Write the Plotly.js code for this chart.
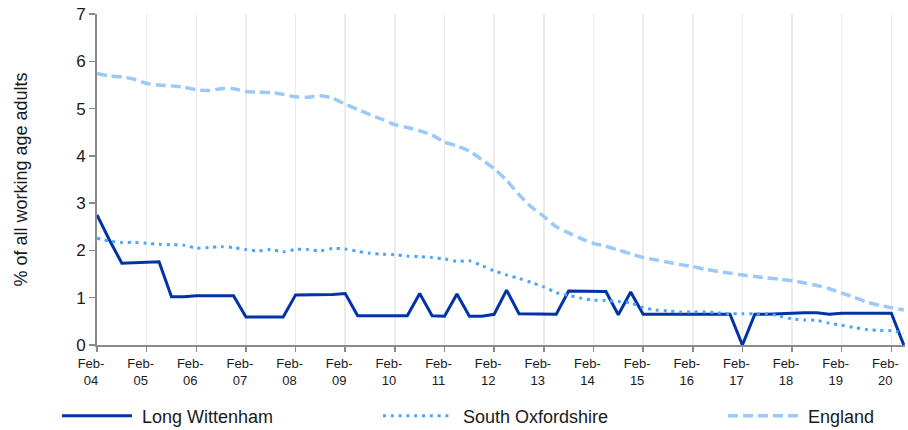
<!DOCTYPE html>
<html>
<head>
<meta charset="utf-8">
<script src="https://cdn.plot.ly/plotly-3.0.1.min.js"></script>
<style>
  html, body { margin: 0; padding: 0; background: #ffffff; }
  #chart { width: 908px; height: 430px; }
</style>
</head>
<body>
<div id="chart"></div>
<script>
// Quarterly observations, Feb-04 (index 0) to May-20 (index 65)
const yearLabels = ['04','05','06','07','08','09','10','11','12','13','14','15','16','17','18','19','20'];

const longWittenham = [
  2.75, 2.22, 1.73, 1.74, 1.75, 1.76, 1.02, 1.02, 1.04, 1.04, 1.04, 1.04,
  0.59, 0.59, 0.59, 0.59, 1.06, 1.06, 1.06, 1.07, 1.09, 0.62, 0.62, 0.62,
  0.62, 0.62, 1.09, 0.62, 0.61, 1.08, 0.61, 0.61, 0.65, 1.16, 0.66, 0.66,
  0.65, 0.65, 1.14, 1.14, 1.13, 1.13, 0.64, 1.12, 0.65, 0.65, 0.65, 0.65,
  0.65, 0.65, 0.65, 0.65, 0.00, 0.65, 0.65, 0.66, 0.68, 0.68, 0.68, 0.65,
  0.67, 0.67, 0.67, 0.67, 0.67, 0.00
];

const southOxfordshire = [
  2.26, 2.20, 2.17, 2.17, 2.15, 2.13, 2.12, 2.11, 2.05, 2.06, 2.08, 2.06,
  2.02, 1.99, 2.02, 1.97, 2.02, 2.02, 1.99, 2.04, 2.03, 1.98, 1.94, 1.92,
  1.91, 1.88, 1.87, 1.85, 1.82, 1.77, 1.78, 1.68, 1.57, 1.48, 1.41, 1.32,
  1.23, 1.11, 1.05, 0.99, 0.95, 0.94, 0.92, 0.89, 0.79, 0.74, 0.72, 0.70,
  0.70, 0.70, 0.68, 0.66, 0.66, 0.66, 0.66, 0.61, 0.55, 0.53, 0.52, 0.46,
  0.42, 0.37, 0.33, 0.31, 0.30, 0.25
];

const england = [
  5.74, 5.69, 5.67, 5.62, 5.53, 5.50, 5.48, 5.45, 5.40, 5.38, 5.42, 5.42,
  5.36, 5.35, 5.34, 5.30, 5.25, 5.24, 5.27, 5.22, 5.09, 4.98, 4.87, 4.77,
  4.66, 4.60, 4.53, 4.44, 4.29, 4.21, 4.10, 3.92, 3.73, 3.48, 3.18, 2.92,
  2.72, 2.50, 2.37, 2.25, 2.15, 2.09, 2.01, 1.93, 1.85, 1.80, 1.75, 1.70,
  1.66, 1.60, 1.56, 1.52, 1.48, 1.45, 1.42, 1.39, 1.36, 1.31, 1.26, 1.19,
  1.10, 1.01, 0.91, 0.84, 0.79, 0.74
];

const seriesNames = ['Long Wittenham', 'South Oxfordshire', 'England'];

const quarterIndex = longWittenham.map((_, i) => i);
const tickVals = yearLabels.map((_, i) => i * 4);
const tickText = yearLabels.map(y => 'Feb-<br>' + y);

const FONT = '"Liberation Sans", Arial, sans-serif';
const NBSP = '\u00a0';

const traces = [
  {
    x: quarterIndex, y: longWittenham, name: NBSP + seriesNames[0],
    type: 'scatter', mode: 'lines',
    line: { color: '#0033a6', width: 3, shape: 'linear' },
    legend: 'legend'
  },
  {
    x: quarterIndex, y: southOxfordshire, name: NBSP + seriesNames[1],
    type: 'scatter', mode: 'lines',
    line: { color: '#4ea4f7', width: 3, dash: '3px,4.8px', shape: 'spline', smoothing: 0.8 },
    legend: 'legend2'
  },
  {
    x: quarterIndex, y: england, name: NBSP + seriesNames[2],
    type: 'scatter', mode: 'lines',
    line: { color: '#9bc9fb', width: 3.5, dash: '10px,5px', shape: 'spline', smoothing: 0.8 },
    legend: 'legend3'
  }
];

// plot area: left 97, right 905 (808px), top 14, bottom 345 (331px)
const px2x = p => (p - 97) / 808;
const legendY = (345 - 416) / 331;
const legendCommon = {
  orientation: 'h', yanchor: 'middle', xanchor: 'left', y: legendY,
  font: { family: FONT, size: 18, color: '#1a1a1a' },
  itemwidth: 70, bgcolor: 'rgba(0,0,0,0)', borderwidth: 0
};

const layout = {
  width: 908, height: 430,
  margin: { l: 97, r: 3, t: 14, b: 85, autoexpand: false },
  paper_bgcolor: '#ffffff', plot_bgcolor: '#ffffff',
  showlegend: true,
  xaxis: {
    range: [0, 65.1],
    tickmode: 'array', tickvals: tickVals, ticktext: tickText,
    ticks: 'outside', ticklen: 5, tickwidth: 1.5, tickcolor: '#8a8a8a',
    ticklabelshift: -6,
    showline: true, linecolor: '#8a8a8a', linewidth: 2,
    showgrid: true, gridcolor: '#ececec', gridwidth: 1.5,
    zeroline: false,
    tickfont: { family: FONT, size: 13, color: '#1a1a1a' },
    fixedrange: true
  },
  yaxis: {
    range: [0, 7], tickmode: 'linear', tick0: 0, dtick: 1,
    ticks: 'outside', ticklen: 6, tickwidth: 1.5, tickcolor: '#8a8a8a',
    showline: true, linecolor: '#8a8a8a', linewidth: 2,
    showgrid: false, zeroline: false,
    tickfont: { family: FONT, size: 17, color: '#1a1a1a' },
    title: { text: '% of all working age adults', font: { family: FONT, size: 18, color: '#1a1a1a' }, standoff: 44 },
    fixedrange: true
  },
  legend: Object.assign({}, legendCommon, { x: px2x(57) }),
  legend2: Object.assign({}, legendCommon, { x: px2x(378) }),
  legend3: Object.assign({}, legendCommon, { x: px2x(723) })
};

Plotly.newPlot('chart', traces, layout, { displayModeBar: false, staticPlot: true });
</script>
</body>
</html>
